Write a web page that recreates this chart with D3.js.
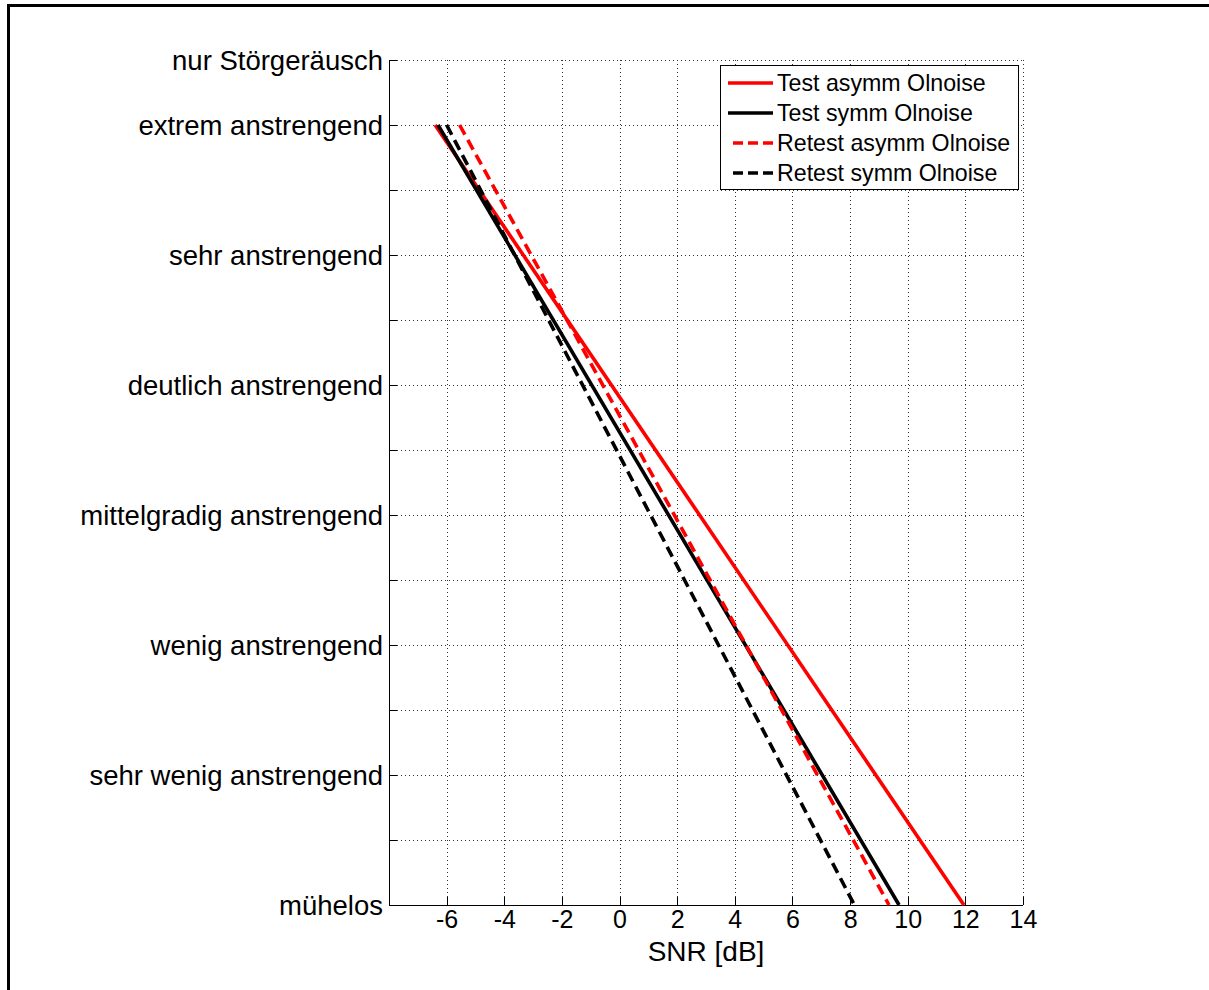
<!DOCTYPE html>
<html>
<head>
<meta charset="utf-8">
<script src="https://cdn.jsdelivr.net/npm/d3@7"></script>
<style>
  html, body { margin: 0; padding: 0; background: #fff; }
  svg { display: block; }
  text { font-family: "Liberation Sans", Arial, sans-serif; fill: #000; }
</style>
</head>
<body>
<script>
// Effort scale categories (ESCU) and their German labels
const effortTicks = [1, 2, 3, 4, 5, 6, 7, 8, 9, 10, 11, 12, 13, 14];
const effortLabels = {
  1: "mühelos",
  3: "sehr wenig anstrengend",
  5: "wenig anstrengend",
  7: "mittelgradig anstrengend",
  9: "deutlich anstrengend",
  11: "sehr anstrengend",
  13: "extrem anstrengend",
  14: "nur Störgeräusch"
};
const snrTicks = [-6, -4, -2, 0, 2, 4, 6, 8, 10, 12, 14];

// Fitted effort functions: SNR (dB) at the end points of the scale
const effortLevels = [13, 1];
const testAsymm = [-6.4, 11.95];
const testSymm = [-6.3, 9.7];
const retestAsymm = [-5.55, 9.35];
const retestSymm = [-6.0, 8.15];

const seriesNames = ["Test asymm Olnoise", "Test symm Olnoise", "Retest asymm Olnoise", "Retest symm Olnoise"];
const seriesValues = [testAsymm, testSymm, retestAsymm, retestSymm];
const seriesColors = ["#ff0000", "#000000", "#ff0000", "#000000"];
const seriesDash = [null, null, "11,6", "11,6"];

const W = 1209, H = 990;
const svg = d3.select("body").append("svg").attr("width", W).attr("height", H);

// figure frame
svg.append("rect").attr("x", 8.5).attr("y", 5.5).attr("width", 1400).attr("height", 1200)
  .attr("fill", "none").attr("stroke", "#000").attr("stroke-width", 3);

const plotLeft = 389, plotRight = 1023, plotTop = 60, plotBottom = 905;
const x = d3.scaleLinear().domain([-8, 14]).range([plotLeft, plotRight]);
const y = d3.scaleLinear().domain([1, 14]).range([plotBottom, plotTop]);

// grid
const grid = svg.append("g").attr("stroke", "#333").attr("stroke-width", 1)
  .attr("stroke-dasharray", "1,3").attr("shape-rendering", "crispEdges");
grid.selectAll("line.gx").data(snrTicks).join("line").attr("class", "gx")
  .attr("x1", d => Math.round(x(d)) + 0.5).attr("x2", d => Math.round(x(d)) + 0.5)
  .attr("y1", plotTop).attr("y2", plotBottom);
grid.selectAll("line.gy").data(effortTicks).join("line").attr("class", "gy")
  .attr("x1", plotLeft).attr("x2", plotRight)
  .attr("y1", d => Math.round(y(d)) + 0.5).attr("y2", d => Math.round(y(d)) + 0.5);

// axes (ticks pointing inward)
const xAxis = d3.axisBottom(x).tickValues(snrTicks).tickSize(-8).tickPadding(5)
  .tickFormat(d => d < 0 ? "-" + Math.abs(d) : String(d));
const gx = svg.append("g").attr("transform", `translate(0,${plotBottom})`).call(xAxis);
gx.select(".domain").attr("d", `M${plotLeft},0.5H${plotRight}`);

const yAxis = d3.axisLeft(y).tickValues(effortTicks).tickSize(-8).tickPadding(6)
  .tickFormat(d => effortLabels[d] || "");
const gy = svg.append("g").attr("transform", `translate(${plotLeft},0)`).call(yAxis);
gy.select(".domain").attr("d", `M0.5,${plotBottom}V${plotTop}`);

[gx, gy].forEach(g => {
  g.selectAll("path, line").attr("stroke", "#000").attr("stroke-width", 1).attr("shape-rendering", "crispEdges");
  g.selectAll("text").attr("font-family", "Liberation Sans, Arial, sans-serif");
});
gx.selectAll("text").attr("font-size", 25);
gy.selectAll("text").attr("font-size", 27.5).attr("dy", "0.35em");

svg.append("text").attr("x", (plotLeft + plotRight) / 2).attr("y", 961)
  .attr("text-anchor", "middle").attr("font-size", 28).text("SNR [dB]");

// effort functions
const line = d3.line().x(d => x(d[0])).y(d => y(d[1]));
seriesValues.forEach((vals, i) => {
  const pts = vals.map((v, j) => [v, effortLevels[j]]);
  svg.append("path").attr("d", line(pts)).attr("fill", "none")
    .attr("stroke", seriesColors[i]).attr("stroke-width", 3.6)
    .attr("stroke-dasharray", seriesDash[i]);
});

// legend
const lg = svg.append("g");
lg.append("rect").attr("x", 720.5).attr("y", 65.5).attr("width", 298).attr("height", 124)
  .attr("fill", "#fff").attr("stroke", "#000").attr("stroke-width", 1);
const rowY = [83, 113, 143, 173];
seriesNames.forEach((name, i) => {
  lg.append("line").attr("x1", seriesDash[i] ? 733 : 728).attr("x2", 773)
    .attr("y1", rowY[i]).attr("y2", rowY[i])
    .attr("stroke", seriesColors[i]).attr("stroke-width", 3.6)
    .attr("stroke-dasharray", seriesDash[i] ? "10,5" : null);
  lg.append("text").attr("x", 777).attr("y", rowY[i]).attr("dy", "0.35em")
    .attr("font-size", 23.2).text(name);
});
</script>
</body>
</html>
